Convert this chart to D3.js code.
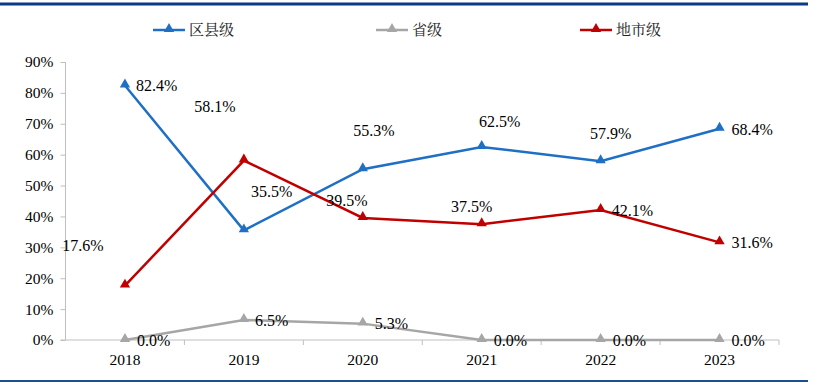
<!DOCTYPE html>
<html>
<head>
<meta charset="utf-8">
<script src="https://cdn.jsdelivr.net/npm/d3@7"></script>
<style>
body{margin:0;background:#fff;}
svg{display:block;}
.serif{font-family:"Liberation Serif","Times New Roman",serif;}
</style>
</head>
<body>
<script>
var w = 813;
var h = 387;

var years = ["2018","2019","2020","2021","2022","2023"];
var seriesNames = ["区县级","省级","地市级"];
var county = [82.4,35.5,55.3,62.5,57.9,68.4];
var province = [0.0,6.5,5.3,0.0,0.0,0.0];
var city = [17.6,58.1,39.5,37.5,42.1,31.6];
var yTicks = [0,10,20,30,40,50,60,70,80,90];

var colors = ["#1F6FC5","#A6A6A6","#C00000"];

// label offsets (px) from each point, per series
var countyOff = [[11,0,"start"],[7,-39,"start"],[11,-39,"middle"],[18,-26,"middle"],[10,-28,"middle"],[12,1,"start"]];
var provinceOff = [[12,0,"start"],[11,0,"start"],[12,0,"start"],[12,0,"start"],[12,0,"start"],[12,0,"start"]];
var cityOff = [[-42,-40,"middle"],[-29,-54,"middle"],[-16,-18,"middle"],[-10,-18,"middle"],[11,0,"start"],[12,0,"start"]];

var series = [
    {name:seriesNames[0], values:county, off:countyOff, color:colors[0]},
    {name:seriesNames[1], values:province, off:provinceOff, color:colors[1]},
    {name:seriesNames[2], values:city, off:cityOff, color:colors[2]}
];

var svg = d3.select("body")
            .append("svg")
            .attr("width",w)
            .attr("height",h);

// frame lines
svg.append("line")
    .attr("x1",0).attr("x2",808)
    .attr("y1",4).attr("y2",4)
    .attr("stroke","#0B3A84")
    .attr("stroke-width",3);
svg.append("line")
    .attr("x1",0).attr("x2",808)
    .attr("y1",381).attr("y2",381)
    .attr("stroke","#1F4E8C")
    .attr("stroke-width",2);

var xScale = d3.scaleBand()
                .domain(years)
                .range([65.5,779]);

var yScale = d3.scaleLinear()
                .domain([0,90])
                .range([340,62]);

// y axis
var yAxis = svg.append("g")
    .attr("transform","translate(65.5,0)")
    .call(d3.axisLeft(yScale).tickValues(yTicks).tickSize(5).tickPadding(7)
        .tickFormat(function(d){ return d + "%"; }));
yAxis.attr("font-family",null).attr("font-size",null);
yAxis.selectAll("line,path").attr("stroke","#BFBFBF");
yAxis.select(".domain").attr("d","M0,62V340");
yAxis.selectAll("text")
    .attr("class","serif")
    .style("font-size","15.5px")
    .attr("fill","#000");

// x axis
var xAxis = svg.append("g")
    .attr("transform","translate(0,340)");
xAxis.append("line")
    .attr("x1",60.5).attr("x2",779)
    .attr("stroke","#BFBFBF");
xAxis.selectAll(".tk")
    .data(years)
    .enter()
    .append("line")
    .attr("class","tk")
    .attr("x1",function(d){ return xScale(d) + xScale.bandwidth(); })
    .attr("x2",function(d){ return xScale(d) + xScale.bandwidth(); })
    .attr("y1",0).attr("y2",5)
    .attr("stroke","#BFBFBF");
xAxis.selectAll(".lb")
    .data(years)
    .enter()
    .append("text")
    .attr("class","lb serif")
    .attr("x",function(d){ return xScale(d) + xScale.bandwidth()/2; })
    .attr("y",25)
    .attr("text-anchor","middle")
    .style("font-size","15.5px")
    .text(function(d){ return d; });

var line = d3.line()
    .x(function(d,i){ return xScale(years[i]) + xScale.bandwidth()/2; })
    .y(function(d){ return yScale(d); });

var tri = d3.symbol().type(d3.symbolTriangle).size(46);

// draw gray first so others sit on top
[1,0,2].forEach(function(k){
    var s = series[k];
    var g = svg.append("g");
    g.append("path")
        .attr("d",line(s.values))
        .attr("fill","none")
        .attr("stroke",s.color)
        .attr("stroke-width",2.5);
    g.selectAll("path.m")
        .data(s.values)
        .enter()
        .append("path")
        .attr("class","m")
        .attr("d",tri)
        .attr("fill",s.color)
        .attr("transform",function(d,i){
            return "translate(" + (xScale(years[i]) + xScale.bandwidth()/2) + "," + (yScale(d) - 1) + ")";
        });
});

[0,1,2].forEach(function(k){
    var s = series[k];
    svg.append("g").selectAll("text")
        .data(s.values)
        .enter()
        .append("text")
        .attr("class","serif")
        .attr("x",function(d,i){ return xScale(years[i]) + xScale.bandwidth()/2 + s.off[i][0]; })
        .attr("y",function(d,i){ return yScale(d) + s.off[i][1]; })
        .attr("dy","0.35em")
        .attr("text-anchor",function(d,i){ return s.off[i][2]; })
        .style("font-size","16px")
        .attr("fill","#000")
        .text(function(d){ return d.toFixed(1) + "%"; });
});

// legend
var legendX = [153,376,580];
var legend = svg.selectAll(".leg")
    .data(series)
    .enter()
    .append("g")
    .attr("class","leg")
    .attr("transform",function(d,i){ return "translate(" + legendX[i] + ",30)"; });
legend.append("line")
    .attr("x1",0).attr("x2",32)
    .attr("stroke",function(d){ return d.color; })
    .attr("stroke-width",2.5);
legend.append("path")
    .attr("d",tri)
    .attr("transform","translate(16,-1)")
    .attr("fill",function(d){ return d.color; });
legend.append("text")
    .attr("x",36)
    .attr("dy","0.35em")
    .attr("font-family","'Noto Serif CJK SC', 'Noto Sans CJK SC', serif")
    .attr("font-size",15)
    .attr("fill","#222")
    .text(function(d){ return d.name; });
</script>
</body>
</html>
